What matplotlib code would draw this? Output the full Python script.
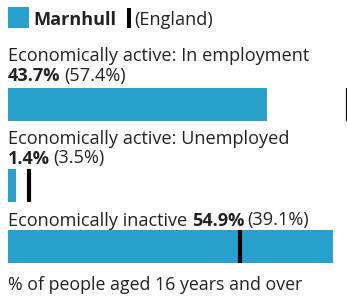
import matplotlib
matplotlib.use("Agg")
import matplotlib.pyplot as plt
from matplotlib.patches import Rectangle

categories = ["Economically active: In employment",
              "Economically active: Unemployed",
              "Economically inactive"]
local_values = [43.7, 1.4, 54.9]
england_values = [57.4, 3.5, 39.1]
area_name = "Marnhull"
compare_name = "England"
footer = "% of people aged 16 years and over"

W, H = 347, 296
BLUE = "#27a0cc"
TXT = "#222222"
plt.rcParams['font.family'] = ['Open Sans', 'DejaVu Sans']
FS = 13.1

fig = plt.figure(figsize=(W / 100, H / 100), dpi=100)

def fy(y):
    return 1 - y / H

# bars: axes from x=8 px, 0..55 %
ax = fig.add_axes([8 / W, 0, 325.7 / W, 1])
ax.set_xlim(0, 55)
ax.set_ylim(H, 0)
ax.axis("off")

bar_centers = [104.5, 185, 246.5]
bar_h = 33
for yc, v, e in zip(bar_centers, local_values, england_values):
    ax.barh(yc, v, height=bar_h, color=BLUE, left=0)
    ax.vlines(e, yc - bar_h / 2, yc + bar_h / 2, color="black", lw=3, clip_on=False)

SP = 3.4  # a space, in points

def two_part(x, y, bold, normal, lead=None):
    if lead:
        t0 = fig.text(x, fy(y), lead, fontsize=FS, color=TXT, va="baseline")
        t = ax.annotate(bold, xy=(1, 0), xycoords=t0, xytext=(SP, 0),
                        textcoords="offset points", fontsize=FS, color=TXT,
                        fontweight="bold", va="bottom")
    else:
        t = fig.text(x, fy(y), bold, fontsize=FS, color=TXT, fontweight="bold", va="baseline")
    ax.annotate(normal, xy=(1, 0), xycoords=t, xytext=(SP * 0.7, 0),
                textcoords="offset points", fontsize=FS, color=TXT, va="bottom")

x0 = 8 / W
fig.text(x0, fy(61), categories[0], fontsize=FS, color=TXT, va="baseline")
two_part(x0, 81, f"{local_values[0]}%", f"({england_values[0]}%)")
fig.text(x0, fy(143.5), categories[1], fontsize=FS, color=TXT, va="baseline")
two_part(x0, 163.5, f"{local_values[1]}%", f"({england_values[1]}%)")
two_part(x0, 225.5, f"{local_values[2]}%", f"({england_values[2]}%)", lead=categories[2])

fig.text(x0, fy(290), footer, fontsize=12.8, color=TXT, va="baseline")

# legend
fig.patches.append(Rectangle((8 / W, fy(28)), 21 / W, 21 / H, transform=fig.transFigure,
                             facecolor=BLUE, edgecolor="none"))
fig.text(33 / W, fy(25), area_name, fontsize=FS, color=TXT, fontweight="bold", va="baseline")
fig.patches.append(Rectangle((127 / W, fy(28)), 4 / W, 20 / H, transform=fig.transFigure,
                             facecolor="black", edgecolor="none"))
fig.text(134 / W, fy(25), f"({compare_name})", fontsize=FS, color=TXT, va="baseline")

fig.savefig("out.png", dpi=100, facecolor="white")
